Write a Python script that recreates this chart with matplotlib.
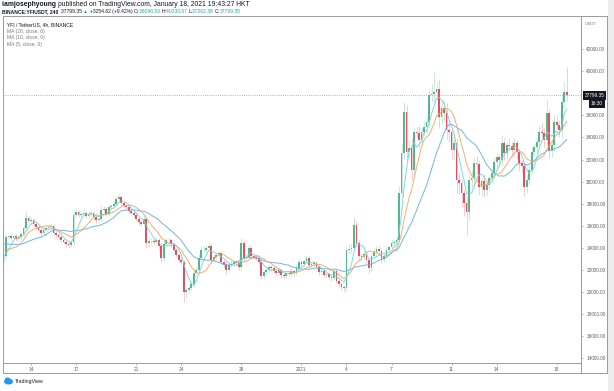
import numpy as np
import pandas as pd
import matplotlib.pyplot as plt
import matplotlib.transforms as mtransforms
from matplotlib.patches import Rectangle, Ellipse
from matplotlib.lines import Line2D

plt.rcParams['font.family'] = ['Liberation Sans', 'DejaVu Sans']

# --- data: YFI/USDT 4h candles, Dec 12 04:00 -> Jan 18 16:00 (HKT) ---
# closes of the 19 candles before the visible window (only needed to warm up the MAs)
history_closes = [25600, 25400, 25200, 25100, 24900, 25000, 24800, 24700, 24500, 24600,
                  24700, 24500, 24300, 24400, 24100, 23500, 23300, 23000, 22900]

closes = [
    23270, 24990, 25080, 24900, 25080, 24810, 24990, 25260, 25800, 26710,
    26430, 26530, 26160, 25890, 25620, 25350, 25620, 25800, 25890, 25980,
    25350, 25170, 24990, 24720, 24530, 24350, 24260, 24530, 26980, 27250,
    26980, 27070, 27160, 26890, 27070, 27160, 26800, 26530, 26620, 27430,
    27520, 27070, 27700, 27790, 27970, 28430, 28610, 28060, 27790, 27700,
    27340, 27160, 26980, 26620, 26340, 26160, 26620, 24440, 24620, 24620,
    24530, 24720, 24170, 23090, 24350, 24720, 24720, 24350, 23810, 23360,
    22900, 22720, 20010, 20190, 20370, 20730, 21730, 22000, 23090, 23810,
    23810, 23990, 24170, 22900, 23180, 23360, 23540, 22720, 22450, 22000,
    22450, 22540, 22720, 22630, 22270, 24440, 23090, 23180, 23990, 23270,
    23180, 23090, 22720, 21460, 21820, 22000, 22270, 22180, 21910, 21730,
    22000, 21550, 21460, 21730, 21640, 21910, 21730, 22180, 22720, 22540,
    22810, 23090, 22450, 22540, 22630, 22270, 21820, 21910, 21550, 21600,
    21370, 21280, 21910, 21000, 20730, 20460, 20370, 23810, 23900, 23990,
    26070, 24440, 23270, 23180, 23450, 22900, 22180, 23270, 23630, 23900,
    23720, 23000, 23270, 23810, 24080, 24440, 24500, 24720, 28970, 32590,
    36300, 32680, 33040, 31050, 34490, 34400, 33770, 34490, 34940, 35390,
    37840, 37930, 38110, 38380, 35850, 36660, 36210, 34670, 34490, 32860,
    33490, 30150, 29870, 28970, 28060, 27250, 30150, 30330, 31680, 31600,
    29510, 30050, 29240, 29690, 30330, 30780, 31770, 32230, 31950, 33490,
    32590, 33310, 33250, 32860, 33490, 32680, 31680, 31410, 29510, 30150,
    31050, 32680, 33130, 33580, 34490, 34400, 33770, 36210, 32860, 33310,
    35390, 35120, 34670, 37200, 38096.53, 37799.35,
]

# wick lengths above the body top / below the body bottom (USDT)
wick_up = [
    200, 250, 150, 200, 150, 200, 150, 200, 300, 550,
    200, 250, 150, 150, 200, 150, 250, 200, 300, 250,
    200, 150, 150, 150, 200, 150, 150, 200, 300, 250,
    200, 300, 250, 150, 250, 200, 150, 150, 200, 450,
    300, 200, 300, 200, 250, 300, 250, 200, 150, 200,
    150, 150, 200, 150, 150, 150, 300, 200, 250, 300,
    200, 250, 150, 200, 350, 250, 300, 200, 150, 200,
    150, 150, 200, 300, 200, 250, 350, 300, 400, 350,
    400, 300, 250, 300, 250, 200, 250, 150, 200, 250,
    200, 250, 150, 200, 150, 500, 250, 300, 400, 200,
    200, 150, 250, 150, 200, 250, 200, 150, 150, 200,
    150, 150, 200, 200, 150, 200, 150, 300, 250, 150,
    200, 300, 200, 150, 200, 150, 150, 200, 150, 150,
    150, 150, 200, 150, 150, 150, 150, 300, 500, 400,
    700, 400, 300, 200, 400, 250, 200, 300, 350, 250,
    300, 200, 250, 300, 200, 350, 200, 300, 600, 900,
    900, 600, 700, 900, 400, 500, 600, 400, 500, 350,
    600, 900, 1900, 700, 900, 500, 700, 900, 600, 400,
    700, 500, 600, 400, 300, 600, 400, 700, 500, 600,
    400, 300, 600, 300, 400, 300, 500, 400, 300, 700,
    500, 300, 600, 400, 500, 300, 400, 300, 300, 400,
    400, 500, 300, 400, 600, 800, 500, 1200, 400, 500,
    700, 600, 500, 800, 900, 2237.14,
]
wick_down = [
    200, 150, 200, 150, 200, 150, 200, 150, 150, 200,
    200, 300, 150, 200, 150, 250, 200, 150, 200, 150,
    200, 250, 200, 150, 200, 300, 250, 200, 250, 200,
    200, 150, 250, 200, 150, 200, 250, 300, 200, 200,
    250, 200, 150, 200, 150, 200, 150, 250, 200, 150,
    200, 150, 200, 150, 250, 200, 200, 400, 300, 250,
    200, 250, 300, 400, 300, 200, 200, 250, 200, 150,
    250, 200, 900, 500, 300, 200, 250, 200, 150, 300,
    200, 250, 200, 250, 200, 150, 200, 300, 250, 350,
    200, 150, 200, 250, 300, 250, 350, 200, 250, 250,
    200, 200, 200, 300, 250, 200, 150, 200, 150, 250,
    200, 250, 200, 150, 200, 150, 200, 150, 150, 200,
    150, 200, 250, 150, 200, 200, 250, 150, 200, 150,
    200, 250, 150, 200, 250, 300, 400, 250, 300, 350,
    300, 400, 350, 400, 250, 300, 450, 300, 250, 300,
    300, 400, 300, 200, 250, 200, 300, 250, 200, 300,
    500, 700, 600, 900, 500, 400, 600, 500, 400, 500,
    500, 600, 800, 700, 900, 600, 700, 800, 900, 800,
    900, 1200, 1000, 1300, 1200, 2100, 700, 800, 600, 900,
    700, 800, 600, 500, 400, 500, 400, 600, 500, 500,
    600, 500, 400, 600, 500, 600, 700, 600, 800, 500,
    500, 400, 400, 500, 600, 500, 600, 500, 700, 600,
    500, 400, 600, 700, 600, 536.96,
]

tick_pos = [11, 29, 53, 71, 95, 119, 137, 155, 179, 197, 221]
tick_labels = ['14', '17', '21', '24', '28', '2021', '4', '7', '11', '14', '18']
price_ticks = [14000, 16000, 18000, 20000, 22000, 24000, 26000, 28000, 30000,
               32000, 34000, 36000, 40000, 42000]
ma_periods = [20, 10, 5]
ma_colors = ['#5aaef0', '#f7a35c', '#6fd6e0']
last_price = 37799.35

green = '#53b987'
red = '#eb4d5c'

# --- derived ---
all_closes = np.array(history_closes + closes, dtype=float)
n_hist = len(history_closes)
x_all = np.arange(-n_hist, len(closes))
c = np.array(closes, dtype=float)
o = all_closes[n_hist - 1:-1]
x = np.arange(len(closes))
body_top = np.maximum(o, c)
body_bot = np.minimum(o, c)
highs = body_top + np.array(wick_up)
lows = body_bot - np.array(wick_down)
up = c >= o
cols = np.where(up, green, red)

W, H = 614, 391
fig = plt.figure(figsize=(W / 100, H / 100), dpi=100)
fig.patch.set_facecolor('white')


def fx(px):
    return px / W


def fy(py):
    return 1 - py / H


ax_l, ax_r, ax_t, ax_b = 3, 581, 16, 363
ax = fig.add_axes([fx(ax_l), fy(ax_b), fx(ax_r - ax_l), (ax_b - ax_t) / H])
ax.set_xlim(-0.2, 230.7)
ax.set_ylim(13584, 44987)

# wicks
ax.vlines(x[up], lows[up], highs[up], color=green, alpha=0.35, lw=0.6)
ax.vlines(x[~up], lows[~up], highs[~up], color=red, alpha=0.35, lw=0.6)
# bodies
heights = np.maximum(body_top - body_bot, 40)
ax.bar(x, heights, bottom=body_bot, width=0.7, color=cols, linewidth=0)

# moving averages
series = pd.Series(all_closes)
for n, col in zip(ma_periods, ma_colors):
    ma = series.rolling(n).mean()
    ax.plot(x_all, ma, color=col, lw=0.7, alpha=0.9)

# last price dotted line
ax.axhline(last_price, color='#9a9a9a', lw=0.6, ls=(0, (1, 1.6)))

# axes styling
for s in ax.spines.values():
    s.set_color('#9b9b9b')
    s.set_linewidth(0.7)
ax.yaxis.tick_right()
ax.set_yticks(price_ticks)
ax.set_yticklabels([f'{v:.2f}' for v in price_ticks])
ax.set_xticks(tick_pos)
ax.set_xticklabels(tick_labels)
ax.tick_params(axis='both', labelsize=3.4, length=1.6, width=0.5)
ax.tick_params(axis='y', colors='#9b9b9b', labelcolor='#5d606b', pad=2.2)
ax.tick_params(axis='x', colors='#9b9b9b', labelcolor='#5d606b', pad=1.5)

# price label and countdown on the price scale
blend = mtransforms.blended_transform_factory(fig.transFigure, ax.transData)
ax.text(fx(594.5), last_price, '37799.35', transform=blend, ha='center', va='center',
        fontsize=3.4, color='white', clip_on=False,
        bbox=dict(boxstyle='square,pad=0.35', fc='#131722', ec='none'))
ax.annotate('16:30', xy=(fx(597), last_price), xycoords=blend, xytext=(0, -6),
            textcoords='offset points', ha='center', va='center', fontsize=3.4,
            color='white', bbox=dict(boxstyle='square,pad=0.35', fc='#131722', ec='none'),
            annotation_clip=False)

# outer frame of the chart widget
frame = dict(color='#9b9b9b', lw=0.7, transform=fig.transFigure)
fig.add_artist(Line2D([fx(3), fx(607)], [fy(373), fy(373)], **frame))
fig.add_artist(Line2D([fx(3), fx(3)], [fy(363), fy(373)], **frame))
fig.add_artist(Line2D([fx(607), fx(607)], [fy(16), fy(373)], **frame))
fig.add_artist(Line2D([fx(581), fx(581)], [fy(363), fy(373)], **frame))
fig.add_artist(Line2D([fx(581), fx(607)], [fy(16), fy(16)], **frame))
fig.add_artist(Rectangle((fx(608), fy(391)), fx(6), 1, transform=fig.transFigure,
                         fc='#ececec', ec='none'))
fig.text(fx(591), fy(24), 'USDT', fontsize=3.2, color='#787b86', ha='center', va='center')


def text_run(parts, y, size):
    # draw a line of differently styled text pieces one after another
    fig.canvas.draw()
    renderer = fig.canvas.get_renderer()
    xpos = fx(2)
    for txt, col, wt in parts:
        t = fig.text(xpos, fy(y), txt, fontsize=size, color=col, weight=wt, va='center')
        xpos += t.get_window_extent(renderer=renderer).width / W


# header
text_run([('iamjosephyoung ', '#131722', 'bold'),
          ('published on TradingView.com, January 18, 2021 19:43:27 HKT', '#131722', 'normal')],
         4.5, 4.9)
text_run([('BINANCE:YFIUSDT, 240  ', '#131722', 'bold'),
          ('37799.35 ', '#131722', 'normal'),
          ('\u25b2 ', '#26a69a', 'normal'),
          ('+3254.62 (+9.42%) ', '#131722', 'normal'),
          ('O:', '#131722', 'normal'), ('38096.53 ', '#26a69a', 'normal'),
          ('H:', '#131722', 'normal'), ('40333.67 ', '#26a69a', 'normal'),
          ('L:', '#131722', 'normal'), ('37262.39 ', '#26a69a', 'normal'),
          ('C:', '#131722', 'normal'), ('37799.35', '#26a69a', 'normal')],
         11.5, 3.65)

# legend inside the chart
legend_lines = [('YFI / TetherUS, 4h, BINANCE', '#131722'),
                ('MA (20, close, 0)', '#787b86'),
                ('MA (10, close, 0)', '#787b86'),
                ('MA (5, close, 0)', '#787b86')]
for k, (txt, col) in enumerate(legend_lines):
    fig.text(fx(7), fy(24.5 + 6.6 * k), txt, fontsize=3.6, color=col, va='center')

# TradingView logo
fig.add_artist(Ellipse((fx(8.5), fy(381.5)), fx(9), 6 / H, transform=fig.transFigure,
                       fc='#2196f3', ec='none'))
fig.add_artist(Ellipse((fx(7.5), fy(379.5)), fx(5), 4 / H, transform=fig.transFigure,
                       fc='#2196f3', ec='none'))
fig.text(fx(14.5), fy(381.5), 'TradingView', fontsize=3.7, color='#131722', va='center')

fig.savefig('out.png', dpi=100)
